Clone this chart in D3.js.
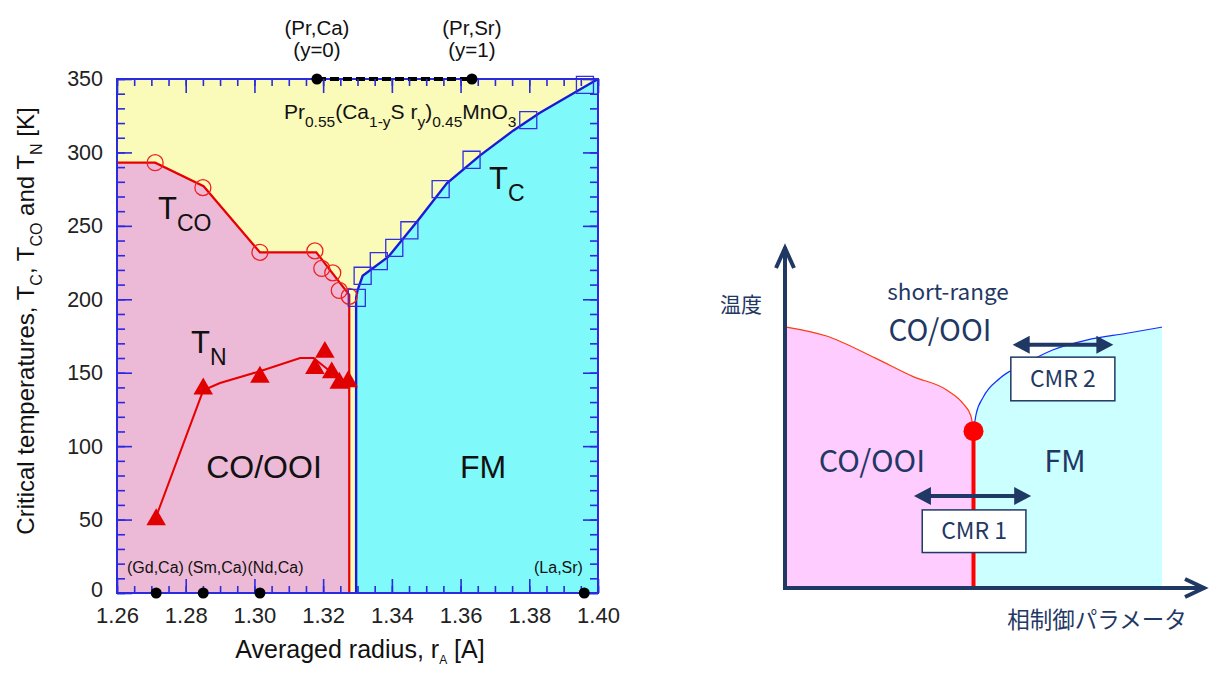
<!DOCTYPE html>
<html><head><meta charset="utf-8">
<script src="https://cdn.jsdelivr.net/npm/d3@7"></script>
<style>body{margin:0;background:#fff} svg{display:block}</style>
</head><body><svg id="c" width="1211" height="675"></svg>
<script>
// ---------- phase diagram of Pr0.55(Ca,Sr)0.45MnO3 and related manganites ----------
// T_CO : charge / orbital ordering temperature (open circles)
const tcoRadius = [1.2711, 1.2850, 1.3016, 1.3176, 1.3196, 1.3228, 1.3247, 1.3276];
const tcoTemp   = [293, 276, 232, 233, 221, 218, 206, 202];
const tcoLineRadius = [1.26, 1.2711, 1.2852, 1.3016, 1.3180, 1.3276, 1.3276];
const tcoLineTemp   = [293, 293, 277, 232, 232, 203, 0];
// T_C : ferromagnetic Curie temperature (open squares)
const tcRadius = [1.3298, 1.3315, 1.3362, 1.3407, 1.3451, 1.3542, 1.3632, 1.3797, 1.3962];
const tcTemp   = [201, 216, 226, 235, 247, 275, 295, 322, 346];
const tcLineRadius = [1.3296, 1.3296, 1.3300, 1.3315, 1.3390, 1.3477, 1.3560, 1.3657, 1.3754, 1.3831, 1.40];
const tcLineTemp   = [0, 201, 206, 216, 229, 254, 279, 298, 315, 327, 350];
// T_N : antiferromagnetic Neel temperature (filled triangles)
const tnRadius = [1.2714, 1.2851, 1.3016, 1.3176, 1.3205, 1.3225, 1.3247, 1.3273];
const tnTemp   = [50, 139, 147, 153, 164, 150, 143, 144];
const tnLineRadius = [1.2714, 1.2851, 1.2900, 1.3016, 1.3133, 1.3172, 1.3220, 1.3273];
const tnLineTemp   = [52, 138, 143, 151, 160, 160, 151, 143];
// reference compounds on the radius axis
const refNames  = ["(Gd,Ca)", "(Sm,Ca)", "(Nd,Ca)", "(La,Sr)"];
const refRadius = [1.2714, 1.2851, 1.3016, 1.3960];
// end members of the Pr0.55(Ca1-ySry)0.45MnO3 series
const seriesNames  = ["(Pr,Ca)", "(Pr,Sr)"];
const seriesY      = ["(y=0)", "(y=1)"];
const seriesRadius = [1.3182, 1.3633];
// axis ticks
const xMajor = [1.26, 1.28, 1.30, 1.32, 1.34, 1.36, 1.38, 1.40];
const xMinor = d3.range(0, 29).map(i => 1.26 + i * 0.005);
const yMajor = [0, 50, 100, 150, 200, 250, 300, 350];
const yMinor = d3.range(0, 36).map(i => i * 10);

// ---------- schematic phase diagram (arbitrary units 0..100) ----------
const coBoundary = [[0, 76.6], [11, 73.9], [24, 67.4], [34, 62], [43, 58], [47.3, 54], [49.3, 50.5], [50, 46]];
const fmBoundary = [[50, 46], [50.7, 51], [52.6, 56], [57, 61.5], [64, 66], [71, 69.8], [80, 72.7], [90.7, 74.7], [100, 76.5]];
const critical = [50, 46];
const cmrRanges = [
  { label: "CMR 1", from: 34.2, to: 65.3, level: 27, box: [36.4, 63.9, 22.9, 10.4] },
  { label: "CMR 2", from: 60.4, to: 87.1, level: 71.3, box: [59.9, 87.5, 67.7, 54.9] }
];

const svg = d3.select("#c");
const FONT = "Liberation Sans, Arial, Helvetica, sans-serif";

// scales
const x = d3.scaleLinear().domain([1.26, 1.40]).range([117, 598]);
const y = d3.scaleLinear().domain([0, 350]).range([593, 79]);

const C_YELLOW = "#fafab9", C_PINK = "#ecbad6", C_CYAN = "#80f9fa";
const C_RED = "#e80000", C_BLUE = "#1a1ad6", C_FRAME = "#2a2ae0";

const zipPts = (xs, ys) => xs.map((v, i) => [v, ys[i]]);
const line = d3.line().x(d => x(d[0])).y(d => y(d[1]));

const plot = svg.append("g");
// background (short-range / paramagnetic region)
plot.append("rect").attr("x", x(1.26)).attr("y", y(350))
  .attr("width", x(1.40) - x(1.26)).attr("height", y(0) - y(350)).attr("fill", C_YELLOW);
// CO/OOI region under T_CO
const coPoly = zipPts(tcoLineRadius, tcoLineTemp).concat([[1.26, 0]]);
plot.append("path").attr("d", line(coPoly) + "Z").attr("fill", C_PINK);
// FM region under T_C
const fmPoly = zipPts(tcLineRadius, tcLineTemp).concat([[1.40, 0]]);
plot.append("path").attr("d", line(fmPoly) + "Z").attr("fill", C_CYAN);

// boundary lines
plot.append("path").attr("d", line(zipPts(tcoLineRadius, tcoLineTemp)))
  .attr("fill", "none").attr("stroke", C_RED).attr("stroke-width", 2.2);
plot.append("path").attr("d", line(zipPts(tcLineRadius, tcLineTemp)))
  .attr("fill", "none").attr("stroke", C_BLUE).attr("stroke-width", 2.4);
plot.append("path").attr("d", line(zipPts(tnLineRadius, tnLineTemp)))
  .attr("fill", "none").attr("stroke", C_RED).attr("stroke-width", 2);

// markers
plot.selectAll("circle.tco").data(zipPts(tcoRadius, tcoTemp)).join("circle")
  .attr("cx", d => x(d[0])).attr("cy", d => y(d[1])).attr("r", 8)
  .attr("fill", "none").attr("stroke", "#f02020").attr("stroke-width", 1.3);
plot.selectAll("path.tc").data(zipPts(tcRadius, tcTemp)).join("path")
  .attr("transform", d => `translate(${x(d[0])},${y(d[1])})`)
  .attr("d", d3.symbol(d3.symbolSquare, 290)())
  .attr("fill", "none").attr("stroke", "#3030e0").attr("stroke-width", 1.3);
plot.selectAll("path.tn").data(zipPts(tnRadius, tnTemp)).join("path")
  .attr("transform", d => `translate(${x(d[0])},${y(d[1])})`)
  .attr("d", d3.symbol(d3.symbolTriangle, 165)())
  .attr("fill", "#e00000");

// frame
plot.append("rect").attr("x", x(1.26)).attr("y", y(350))
  .attr("width", x(1.40) - x(1.26)).attr("height", y(0) - y(350))
  .attr("fill", "none").attr("stroke", C_FRAME).attr("stroke-width", 2);

// axes with inward ticks on all four sides
function styleAxis(size) {
  return g => {
    g.select(".domain").remove();
    g.selectAll(".tick line").attr("stroke", C_FRAME).attr("stroke-width", 1.6);
    g.selectAll(".tick text").attr("font-family", FONT).attr("font-size", size).attr("fill", "#222");
  };
}
const fmtX = d3.format(".2f");
svg.append("g").attr("transform", `translate(0,${y(0)})`)
  .call(d3.axisBottom(x).tickValues(xMinor).tickSize(-7).tickFormat("")).call(styleAxis(22));
svg.append("g").attr("transform", `translate(0,${y(0)})`)
  .call(d3.axisBottom(x).tickValues(xMajor).tickSize(-14).tickPadding(14).tickFormat(fmtX)).call(styleAxis(22));
svg.append("g").attr("transform", `translate(0,${y(350)})`)
  .call(d3.axisTop(x).tickValues(xMinor).tickSize(-7).tickFormat("")).call(styleAxis(22));
svg.append("g").attr("transform", `translate(0,${y(350)})`)
  .call(d3.axisTop(x).tickValues(xMajor).tickSize(-14).tickFormat("")).call(styleAxis(22));
svg.append("g").attr("transform", `translate(${x(1.26)},0)`)
  .call(d3.axisLeft(y).tickValues(yMinor).tickSize(-8).tickFormat("")).call(styleAxis(21));
const yAx = svg.append("g").attr("transform", `translate(${x(1.26)},0)`)
  .call(d3.axisLeft(y).tickValues(yMajor).tickSize(-15).tickPadding(14).tickFormat(d3.format("d"))).call(styleAxis(21.5));
yAx.selectAll(".tick text").filter(d => d === 0).attr("dy", "0.15em");
svg.append("g").attr("transform", `translate(${x(1.40)},0)`)
  .call(d3.axisRight(y).tickValues(yMinor).tickSize(-8).tickFormat("")).call(styleAxis(21));
svg.append("g").attr("transform", `translate(${x(1.40)},0)`)
  .call(d3.axisRight(y).tickValues(yMajor).tickSize(-15).tickFormat("")).call(styleAxis(21));

// series end members on the top axis
plot.append("line").attr("x1", x(seriesRadius[0])).attr("x2", x(seriesRadius[1]))
  .attr("y1", y(350)).attr("y2", y(350))
  .attr("stroke", "#000").attr("stroke-width", 4).attr("stroke-dasharray", "9,4");
seriesRadius.forEach((r, i) => {
  svg.append("circle").attr("cx", x(r)).attr("cy", y(350)).attr("r", 5.5).attr("fill", "#000");
  svg.append("text").attr("x", x(r)).attr("y", 35).attr("text-anchor", "middle")
    .attr("font-family", FONT).attr("font-size", 20.5).attr("fill", "#111").text(seriesNames[i]);
  svg.append("text").attr("x", x(r)).attr("y", 57).attr("text-anchor", "middle")
    .attr("font-family", FONT).attr("font-size", 20.5).attr("fill", "#111").text(seriesY[i]);
});
// reference compounds on the bottom axis
refRadius.forEach(r => {
  svg.append("circle").attr("cx", x(r)).attr("cy", y(0)).attr("r", 5.5).attr("fill", "#000");
});
const refLabelX = [127, 187.5, 247.5, 534];
refNames.forEach((n, i) => {
  svg.append("text").attr("x", refLabelX[i]).attr("y", 573)
    .attr("font-family", FONT).attr("font-size", 16).attr("fill", "#111").text(n);
});

// text with subscripts
function rich(xp, yp, parts, size, subSize, anchor) {
  const t = svg.append("text").attr("x", xp).attr("y", yp)
    .attr("font-family", FONT).attr("font-size", size).attr("fill", "#111")
    .attr("text-anchor", anchor || "start");
  let shift = 0;
  parts.forEach(([s, kind]) => {
    const target = kind === "sub" ? subSize * 0.5 : 0;
    const sp = t.append("tspan").attr("dy", target - shift).text(s);
    if (kind === "sub") sp.attr("font-size", subSize);
    shift = target;
  });
  return t;
}
rich(284, 119, [["Pr"], ["0.55", "sub"], ["(Ca"], ["1-y", "sub"], ["S r"], ["y", "sub"], [")"], ["0.45", "sub"], ["MnO"], ["3", "sub"]], 21, 15.5);
rich(158, 219, [["T"], ["CO", "sub"]], 31, 23);
rich(191, 353, [["T"], ["N", "sub"]], 31, 23);
rich(489, 189, [["T"], ["C", "sub"]], 31, 23);
svg.append("text").attr("x", 264).attr("y", 478).attr("text-anchor", "middle")
  .attr("font-family", FONT).attr("font-size", 32).attr("fill", "#111").text("CO/OOI");
svg.append("text").attr("x", 483).attr("y", 478).attr("text-anchor", "middle")
  .attr("font-family", FONT).attr("font-size", 32).attr("fill", "#111").text("FM");

// axis titles
rich(360, 658, [["Averaged radius, r"], ["A", "sub"], [" [A]"]], 25, 12, "middle");
rich(0, 0, [["Critical temperatures, T"], ["C", "sub"], [", T"], ["CO", "sub"], [" and T"], ["N", "sub"], [" [K]"]], 24, 16, "middle")
  .attr("transform", "translate(34,321) rotate(-90)");

// ---------- schematic ----------
const sx = d3.scaleLinear().domain([0, 100]).range([785, 1162]);
const sy = d3.scaleLinear().domain([0, 100]).range([588, 247]);
const NAVY = "#1f3864";
const JFONT = "Noto Sans CJK JP, Noto Sans, sans-serif";
const sch = svg.append("g");
const curve = d3.line().x(d => sx(d[0])).y(d => sy(d[1])).curve(d3.curveMonotoneX);

sch.append("path")
  .attr("d", curve(coBoundary) + `L${sx(50)},${sy(0)}L${sx(0)},${sy(0)}Z`)
  .attr("fill", "#ffccff");
sch.append("path")
  .attr("d", curve(fmBoundary) + `L${sx(100)},${sy(0)}L${sx(50)},${sy(0)}Z`)
  .attr("fill", "#ccffff");
sch.append("path").attr("d", curve(coBoundary)).attr("fill", "none").attr("stroke", "#ff3c10").attr("stroke-width", 1.2);
sch.append("path").attr("d", curve(fmBoundary)).attr("fill", "none").attr("stroke", "#1030ff").attr("stroke-width", 1.2);
sch.append("line").attr("x1", sx(critical[0])).attr("x2", sx(critical[0]))
  .attr("y1", sy(critical[1])).attr("y2", sy(0)).attr("stroke", "#ff0000").attr("stroke-width", 4);
sch.append("circle").attr("cx", sx(critical[0])).attr("cy", sy(critical[1])).attr("r", 10).attr("fill", "#ff0000");

// axes arrows
const xEnd = sx.invert(1205);
sch.append("line").attr("x1", sx(0)).attr("x2", sx(0)).attr("y1", sy(0) + 2).attr("y2", sy(100))
  .attr("stroke", NAVY).attr("stroke-width", 4);
sch.append("line").attr("x1", sx(0) - 2).attr("x2", sx(xEnd)).attr("y1", sy(0)).attr("y2", sy(0))
  .attr("stroke", NAVY).attr("stroke-width", 4);
sch.append("path").attr("d", `M${sx(0) - 9},${sy(100) + 21}L${sx(0)},${sy(100) + 1}L${sx(0) + 9},${sy(100) + 21}`)
  .attr("fill", "none").attr("stroke", NAVY).attr("stroke-width", 4).attr("stroke-linejoin", "miter");
sch.append("path").attr("d", `M${sx(xEnd) - 20},${sy(0) - 9}L${sx(xEnd) - 1},${sy(0)}L${sx(xEnd) - 20},${sy(0) + 9}`)
  .attr("fill", "none").attr("stroke", NAVY).attr("stroke-width", 4);

// CMR ranges
cmrRanges.forEach(c => {
  const yy = sy(c.level), x1 = sx(c.from), x2 = sx(c.to);
  sch.append("line").attr("x1", x1 + 12).attr("x2", x2 - 12).attr("y1", yy).attr("y2", yy)
    .attr("stroke", NAVY).attr("stroke-width", 4);
  sch.append("path").attr("d", `M${x1},${yy}L${x1 + 17},${yy - 9}L${x1 + 17},${yy + 9}Z`).attr("fill", NAVY);
  sch.append("path").attr("d", `M${x2},${yy}L${x2 - 17},${yy - 9}L${x2 - 17},${yy + 9}Z`).attr("fill", NAVY);
  const [b0, b1, t0, t1] = c.box;
  sch.append("rect").attr("x", sx(b0)).attr("y", sy(t0)).attr("width", sx(b1) - sx(b0)).attr("height", sy(t1) - sy(t0))
    .attr("fill", "#fff").attr("stroke", NAVY).attr("stroke-width", 1.5);
  sch.append("text").attr("x", (sx(b0) + sx(b1)) / 2).attr("y", (sy(t0) + sy(t1)) / 2 + 8)
    .attr("text-anchor", "middle").attr("font-family", JFONT).attr("font-size", 23).attr("fill", NAVY).text(c.label);
});

const stext = (xp, yp, s, size) => sch.append("text").attr("x", xp).attr("y", yp).attr("text-anchor", "middle")
  .attr("font-family", JFONT).attr("font-size", size).attr("fill", NAVY).text(s);
stext(948, 300, "short-range", 22.5);
stext(940, 341, "CO/OOI", 29.5);
stext(872, 472, "CO/OOI", 30.5);
stext(1065, 472, "FM", 30.5);
stext(741, 312, "温度", 21);
stext(1097, 628, "相制御パラメータ", 22.5);
</script></body></html>
